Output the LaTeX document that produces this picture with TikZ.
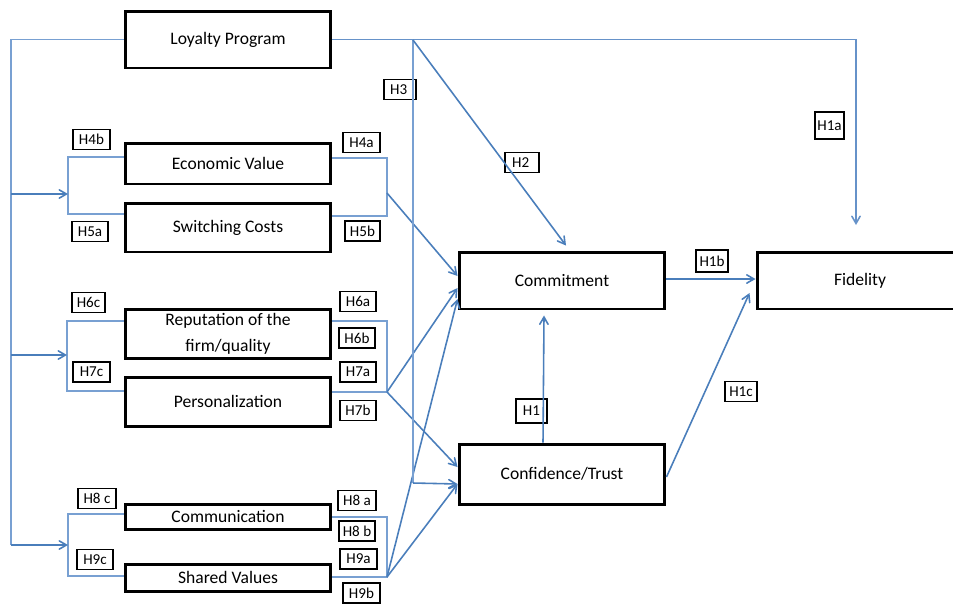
\documentclass[tikz,border=0pt]{standalone}
\usepackage{fontspec}
\setmainfont{Carlito}
\usepackage{tikz}
\usetikzlibrary{arrows}
\definecolor{arrblue}{RGB}{74,126,187}
\definecolor{thinblue}{RGB}{120,160,210}
\tikzset{
  construct/.style={draw=black,line width=1.7pt,minimum width=4.12cm,align=center,inner sep=1pt,font=\fontsize{10}{15}\selectfont},
  hyp/.style={draw=black,line width=1.1pt,inner sep=1pt,minimum height=0.4cm,font=\fontsize{8.6}{9}\selectfont},
  arr/.style={draw=arrblue,line width=0.9pt,->,>=angle 60},
  link/.style={draw=thinblue,line width=0.6pt}
}

\begin{document}
\begin{tikzpicture}[x=0.02cm,y=-0.02cm]
\useasboundingbox (0,0) rectangle (953,603);

\node[construct,minimum height=1.14cm] (loyalty) at (228,39.5) {Loyalty Program};
\node[construct,minimum height=0.82cm] (econ) at (228,163.5) {Economic Value};
\node[construct,minimum height=0.98cm] (switch) at (228,227.5) {Switching Costs};
\node[construct,minimum height=0.98cm] (reput) at (228,333.5) {Reputation of the\\firm/quality};
\node[construct,minimum height=0.98cm] (person) at (228,401.5) {Personalization};
\node[construct,minimum height=0.5cm] (comm) at (228,516.5) {Communication};
\node[construct,minimum height=0.54cm] (shared) at (228,577.5) {Shared Values};
\node[construct,minimum height=1.14cm] (commit) at (562,280.5) {Commitment};
\node[construct,minimum height=1.2cm] (trust) at (562,474) {Confidence/Trust};
\node[construct,minimum height=1.14cm] (fidelity) at (860,280.5) {Fidelity};

\node[hyp,minimum width=0.64cm] (h3) at (400,89.5) {H3\,};
\node[hyp,minimum width=0.74cm] (h4b) at (91.5,139.5) {H4b};
\node[hyp,minimum width=0.74cm] (h4a) at (361.5,142.5) {H4a};
\node[hyp,minimum width=0.72cm] (h5a) at (90,231.5) {H5a};
\node[hyp,minimum width=0.7cm] (h5b) at (362.5,231) {H5b};
\node[hyp,minimum width=0.66cm] (h6c) at (88.5,302.5) {H6c};
\node[hyp,minimum width=0.72cm] (h6a) at (358,301.5) {H6a};
\node[hyp,minimum width=0.72cm] (h6b) at (357,338) {H6b};
\node[hyp,minimum width=0.74cm] (h7c) at (91.5,372) {H7c};
\node[hyp,minimum width=0.72cm] (h7a) at (358,372) {H7a};
\node[hyp,minimum width=0.72cm] (h7b) at (358,410.5) {H7b};
\node[hyp,minimum width=0.76cm] (h8c) at (97,498.5) {H8 c};
\node[hyp,minimum width=0.76cm] (h8a) at (357,500.5) {H8 a};
\node[hyp,minimum width=0.72cm] (h8b) at (357,531) {H8 b};
\node[hyp,minimum width=0.72cm] (h9c) at (95,559.5) {H9c};
\node[hyp,minimum width=0.74cm] (h9a) at (358.5,559) {H9a};
\node[hyp,minimum width=0.74cm] (h9b) at (361.5,593) {H9b};
\node[hyp,minimum width=0.68cm] (h2) at (522,162.5) {H2\,};
\node[hyp,minimum width=0.58cm,minimum height=0.54cm] (h1a) at (829.5,125.5) {H1a};
\node[hyp,minimum width=0.64cm,minimum height=0.44cm] (h1b) at (712,261) {H1b};
\node[hyp,minimum width=0.62cm,minimum height=0.48cm] (h1) at (531.5,411) {H1};
\node[hyp,minimum width=0.64cm] (h1c) at (741,391.5) {H1c};

% left spine and brackets
\coordinate (spine) at (11,545);
\coordinate (lA1) at (68,157); \coordinate (lA2) at (68,214); \coordinate (inA) at (68,194);
\coordinate (lB1) at (67,321); \coordinate (lB2) at (67,391); \coordinate (inB) at (67,355);
\coordinate (lC1) at (68,514); \coordinate (lC2) at (68,576); \coordinate (inC) at (68,545);
\draw[link] (loyalty.west) -| (spine);
\draw[link] (econ.west |- lA1) -- (lA1) -- (lA2) -- (switch.west |- lA2);
\draw[link] (reput.west |- lB1) -- (lB1) -- (lB2) -- (person.west |- lB2);
\draw[link] (comm.west |- lC1) -- (lC1) -- (lC2) -- (shared.west |- lC2);
\draw[arr] (spine |- inA) -- (inA);
\draw[arr] (spine |- inB) -- (inB);
\draw[arr] (spine |- inC) -- (inC);

% right brackets
\coordinate (rA1) at (387,158); \coordinate (rA2) at (387,216); \coordinate (outA) at (387,193);
\coordinate (rB1) at (387,321); \coordinate (rB2) at (387,392);
\coordinate (rC1) at (387,517); \coordinate (rC2) at (387,577);
\draw[link] (econ.east |- rA1) -- (rA1) -- (rA2) -- (switch.east |- rA2);
\draw[link] (reput.east |- rB1) -- (rB1) -- (rB2) -- (person.east |- rB2);
\draw[link] (comm.east |- rC1) -- (rC1) -- (rC2) -- (shared.east |- rC2);
\draw[arr] (outA) -- ([yshift=0.09cm]commit.west);
\draw[arr] (rB2) -- ([yshift=-0.15cm]commit.west);
\draw[arr] (rB2) -- ([yshift=0.14cm]trust.west);
\draw[arr] (rC2) -- ([yshift=-0.37cm]commit.west);
\draw[arr] (rC2) -- ([yshift=-0.2cm]trust.west);

% loyalty program paths
\coordinate (hub) at (413,40); \coordinate (hubLow) at (413,483);
\coordinate (fidIn) at (856,225);
\draw[link] (hub) -- (hubLow);
\draw[arr] (hubLow) -- ([yshift=-0.2cm]trust.west);
\draw[arr,draw=thinblue!60!arrblue] (loyalty.east) -| (fidIn);
\draw[arr] (hub) -- ([xshift=0.08cm,yshift=0.1cm]commit.north);

% core model
\draw[arr] ([xshift=-0.38cm]trust.north) -- ([xshift=-0.36cm,yshift=-0.1cm]commit.south);
\draw[arr] ([yshift=0.03cm]commit.east) -- ([yshift=0.03cm]fidelity.west);
\draw[arr] ([yshift=-0.06cm]trust.east) -- ([xshift=-0.12cm,yshift=-0.25cm]fidelity.west);
\end{tikzpicture}
\end{document}
